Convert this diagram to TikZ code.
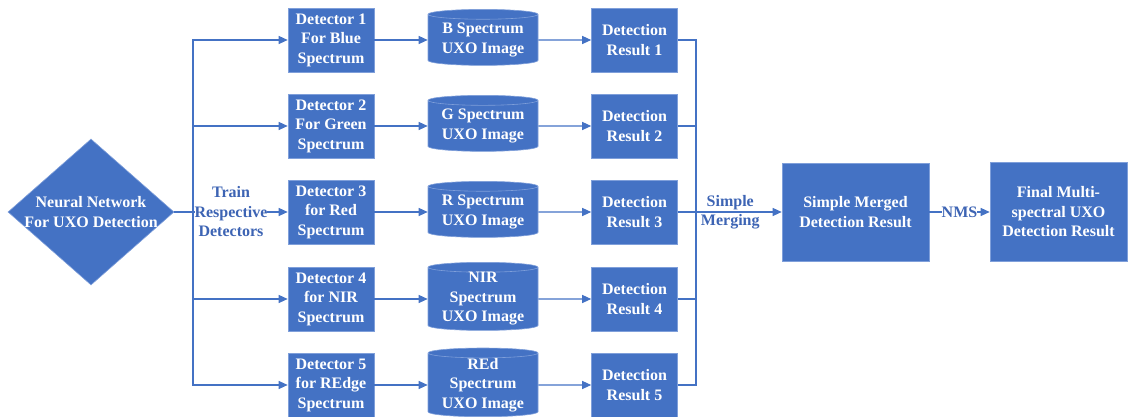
\documentclass[tikz,border=0pt]{standalone}
\usepackage{fontspec}
\setmainfont{Liberation Serif}
\usetikzlibrary{positioning,calc,shapes.geometric,arrows.meta}
\definecolor{uxoblue}{HTML}{4472C4}
\definecolor{uxorim}{HTML}{7F9FDA}
\definecolor{uxotext}{HTML}{3D64B4}

\begin{document}
\begin{tikzpicture}[x=1pt,y=1pt,
  every node/.style={font=\bfseries\fontsize{16}{19.5}\selectfont,align=center},
  blk/.style={draw=uxorim,line width=0.6pt,fill=uxoblue,text=white,inner sep=1pt},
  detbox/.style={blk,minimum width=86,minimum height=64},
  imgcyl/.style={blk,cylinder,shape border rotate=90,aspect=0.12,
                 minimum width=110,minimum height=56,inner sep=0pt},
  flow/.style={uxoblue,line width=1.2pt,-{Triangle[length=9pt,width=8pt]}},
  wire/.style={uxoblue,line width=1.2pt},
  lbl/.style={text=uxotext,inner sep=0pt}]
  \useasboundingbox (0,0) rectangle (1129,417);

  % one row per spectral band
  \foreach \i/\y/\det/\img in {
    1/377/{Detector 1\\For Blue\\Spectrum}/{B Spectrum\\UXO Image},
    2/291/{Detector 2\\For Green\\Spectrum}/{G Spectrum\\UXO Image},
    3/205/{Detector 3\\for Red\\Spectrum}/{R Spectrum\\UXO Image},
    4/118/{Detector 4\\for NIR\\Spectrum}/{NIR\\Spectrum\\UXO Image},
    5/32/{Detector 5\\for REdge\\Spectrum}/{REd\\Spectrum\\UXO Image}} {
    \node[detbox] (det\i) at (331,\y) {\det};
    \node[imgcyl] (img\i) at (483,\y) {\img};
    \node[detbox] (res\i) at (634.5,\y) {Detection\\Result \i};
    \draw[flow] (det\i) -- (img\i);
    \draw[flow] (img\i) -- (res\i);
  }

  % network and training branches
  \node[blk,diamond,minimum width=166,minimum height=146,inner sep=0pt] (nn) at (91,205) {};
  \node[text=white] (nntext) at (nn) {Neural Network\\For UXO Detection};
  \coordinate (split) at (193,205);
  \draw[flow] (nn.east) -- (det3.west)
        node[lbl,fill=white,midway] (train) {Train\\Respective\\Detectors};
  \foreach \i in {1,2,4,5}
    \draw[flow] (split) |- (det\i.west);

  % merging
  \coordinate (merge) at (696,205);
  \foreach \i in {1,...,5}
    \draw[wire] (res\i.east) -| (merge);
  \node[blk,minimum width=147,minimum height=98] (merged) at (855.5,205)
        {Simple Merged\\Detection Result};
  \node[blk,minimum width=137,minimum height=99] (final) at (1058.5,205)
        {Final Multi-\\spectral UXO\\Detection Result};
  \draw[flow] (merge) -- (merged.west) node[lbl,pos=0.4] (simple) {Simple\\Merging};
  \draw[flow] (merged) -- (final) node[lbl,fill=white,midway] (nms) {NMS};
\end{tikzpicture}
\end{document}
